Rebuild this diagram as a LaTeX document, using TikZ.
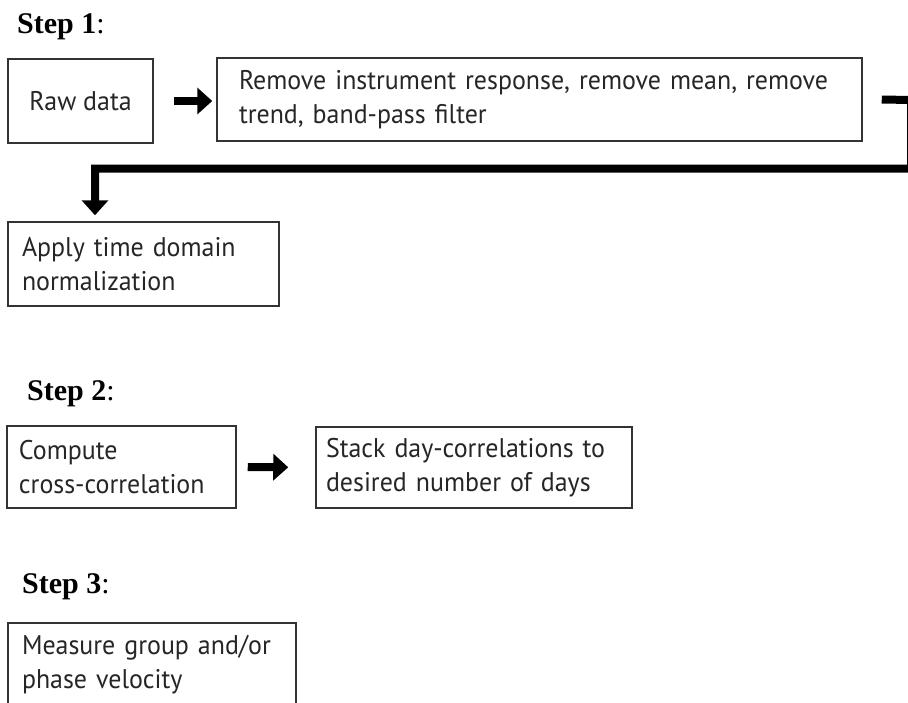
\documentclass[tikz,border=0pt]{standalone}
\usepackage{fontspec}
\setmainfont[FakeStretch=0.96]{PT Sans}
\newfontfamily\stepfont{Liberation Serif}
\usetikzlibrary{arrows.meta,calc}
\definecolor{boxgray}{HTML}{333333}
\definecolor{txtgray}{HTML}{262626}
\hyphenpenalty=10000
\exhyphenpenalty=10000
\begin{document}
\begin{tikzpicture}[x=1pt,y=1pt,
  box/.style={draw=boxgray, line width=1.5pt, text=txtgray,
    font=\fontsize{27}{34}\selectfont, align=left, inner ysep=0pt},
  fat/.style={line width=8pt, line join=miter, -{Triangle[width=26pt,length=15pt]}},
  steplabel/.style={anchor=base west, inner sep=0pt, text=black,
    font=\stepfont\fontsize{30}{36}\selectfont}]
\useasboundingbox (0,0) rectangle (908,-702);
\fill[white] (0,0) rectangle (908,-702);

% Step labels
\node[steplabel] (s1) at (17,-33) {\textbf{Step 1}:};
\node[steplabel] (s2) at (27,-400) {\textbf{Step 2}:};
\node[steplabel] (s3) at (22,-593) {\textbf{Step 3}:};

% Step 1 boxes
\node[box, align=center, minimum width=145pt, minimum height=84pt] (raw) at (80.5,-101) {Raw data};
\node[box, minimum width=645pt, minimum height=83pt, text width=609pt, inner xsep=18pt] (remove) at (539.5,-99.5)
  {\hspace*{4pt}Remove instrument response, remove mean, remove\\\hspace*{4pt}trend, band-pass filter};
\node[box, minimum width=271pt, minimum height=84pt, text width=243pt, inner xsep=14pt] (apply) at (143.5,-264)
  {Apply time domain\\normalization};

% Step 2 boxes
\node[box, minimum width=229pt, minimum height=82pt, text width=205pt, inner xsep=12pt] (compute) at (121.5,-467)
  {Compute\\cross-correlation};
\node[box, minimum width=316pt, minimum height=81pt, text width=296pt, inner xsep=10pt] (stack) at (474,-467.5)
  {Stack day-correlations to\\desired number of days};

% Step 3 box
\node[box, minimum width=288pt, minimum height=83pt, text width=260pt, inner xsep=14pt] (measure) at (152,-664.5)
  {Measure group and/or\\phase velocity};

% connectors
\draw[fat, shorten >=4pt] ([xshift=20pt]raw.east) -- (raw.east -| remove.west);
\coordinate (stub) at ([xshift=19pt]remove.east);
\coordinate (edge) at (911,-100);
\coordinate (turn) at (95,-168.5);
\draw[fat, shorten >=6pt] (stub) -- (edge) -- (edge |- turn) -- (turn) -- (turn |- apply.north);
\draw[fat, shorten >=27pt] ([xshift=11pt]compute.east) -- (stack.west);
\end{tikzpicture}
\end{document}
